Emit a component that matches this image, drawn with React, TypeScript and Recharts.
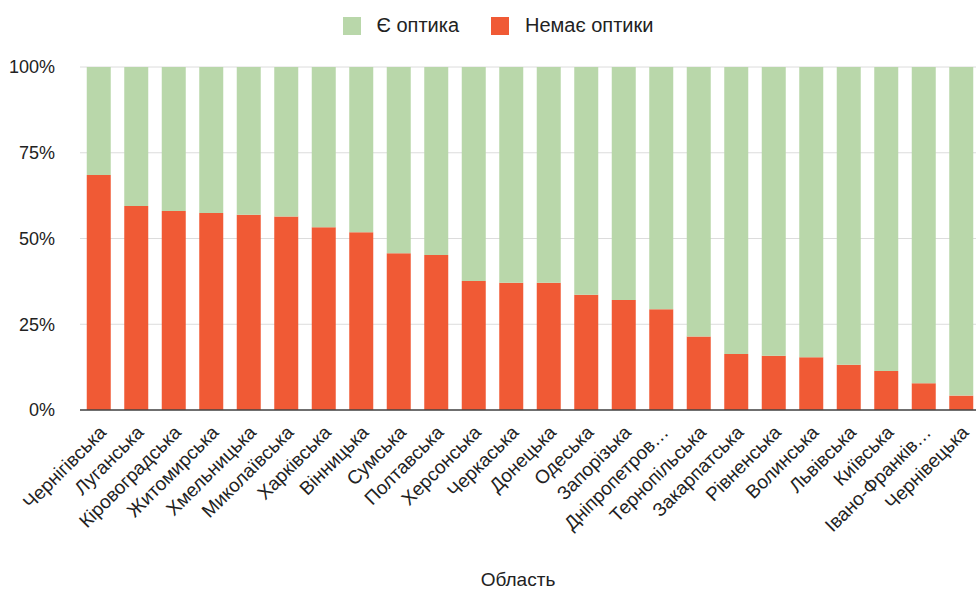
import React from "react";
import {
  BarChart,
  Bar,
  XAxis,
  YAxis,
  CartesianGrid,
  Legend,
} from "recharts";

const FONT = "'Liberation Sans', Arial, sans-serif";
const GREEN = "#b9d7aa";
const RED = "#f05a35";

const regions = [
  "Чернігівська",
  "Луганська",
  "Кіровоградська",
  "Житомирська",
  "Хмельницька",
  "Миколаївська",
  "Харківська",
  "Вінницька",
  "Сумська",
  "Полтавська",
  "Херсонська",
  "Черкаська",
  "Донецька",
  "Одеська",
  "Запорізька",
  "Дніпропетров…",
  "Тернопільська",
  "Закарпатська",
  "Рівненська",
  "Волинська",
  "Львівська",
  "Київська",
  "Івано-Франків…",
  "Чернівецька",
];

// % without optics (red, bottom)
const noOptics = [
  68.5, 59.5, 58.0, 57.4, 56.9, 56.4, 53.3, 51.8, 45.7, 45.2, 37.6, 37.1,
  37.1, 33.6, 32.1, 29.4, 21.4, 16.3, 15.8, 15.4, 13.2, 11.4, 7.8, 4.2,
];

// % with optics (green, top)
const withOptics = [
  31.5, 40.5, 42.0, 42.6, 43.1, 43.6, 46.7, 48.2, 54.3, 54.8, 62.4, 62.9,
  62.9, 66.4, 67.9, 70.6, 78.6, 83.7, 84.2, 84.6, 86.8, 88.6, 92.2, 95.8,
];

const yTicks = [0, 25, 50, 75, 100];

const data = regions.map((name, i) => ({
  name,
  no: noOptics[i],
  yes: withOptics[i],
}));

const AngledTick = (props: any) => {
  const { x, y, payload } = props;
  return (
    <g transform={`translate(${x + 5},${y + 12})`}>
      <text
        x={0}
        y={0}
        dy={5}
        textAnchor="end"
        transform="rotate(-45)"
        fill="#222"
        fontSize={19}
        fontFamily={FONT}
      >
        {payload.value}
      </text>
    </g>
  );
};

const LegendContent = (props: any) => {
  const items = props.payload || [];
  return (
    <div
      style={{
        display: "flex",
        justifyContent: "center",
        alignItems: "center",
        fontFamily: FONT,
        fontSize: 20,
        color: "#222",
        paddingLeft: 16,
      }}
    >
      {items.map((it: any) => (
        <div
          key={it.value}
          style={{ display: "flex", alignItems: "center", margin: "0 16px" }}
        >
          <span
            style={{
              display: "inline-block",
              width: 18,
              height: 18,
              background: it.color,
              marginRight: 16,
            }}
          />
          {it.value}
        </div>
      ))}
    </div>
  );
};

export default function App() {
  return (
    <div
      style={{
        position: "fixed",
        left: 0,
        top: 0,
        width: 976,
        height: 592,
        overflow: "hidden",
        background: "#fff",
      }}
    >
      <BarChart
        width={980}
        height={592}
        data={data}
        margin={{ top: 27, right: 0, bottom: 0, left: 0 }}
        barCategoryGap="18%"
      >
        <Legend
          verticalAlign="top"
          height={40}
          content={<LegendContent />}
          wrapperStyle={{ top: 14 }}
        />
        <CartesianGrid vertical={false} stroke="#dcdcdc" />
        <YAxis
          width={80}
          domain={[0, 100]}
          ticks={yTicks}
          tickFormatter={(v: number) => `${v}%`}
          axisLine={false}
          tickLine={false}
          tickSize={0}
          tickMargin={25}
          tick={{ fontSize: 18, fill: "#222", fontFamily: FONT }}
        />
        <XAxis
          dataKey="name"
          interval={0}
          height={182}
          tickLine={false}
          axisLine={{ stroke: "#444", strokeWidth: 1.5 }}
          tick={<AngledTick />}
          label={{
            value: "Область",
            position: "insideBottom",
            offset: 6,
            dx: -12,
            fontSize: 19,
            fill: "#222",
            fontFamily: FONT,
          }}
        />
        <Bar
          dataKey="no"
          name="Немає оптики"
          stackId="a"
          fill={RED}
          isAnimationActive={false}
        />
        <Bar
          dataKey="yes"
          name="Є оптика"
          stackId="a"
          fill={GREEN}
          isAnimationActive={false}
        />
      </BarChart>
    </div>
  );
}
